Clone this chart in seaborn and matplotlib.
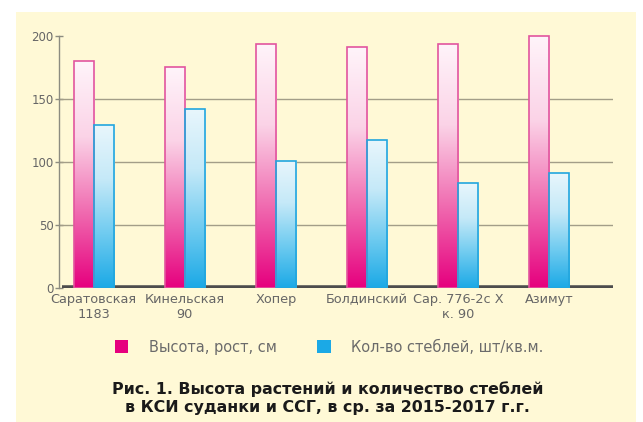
import numpy as np
import pandas as pd
import matplotlib
matplotlib.use("Agg")
import matplotlib.pyplot as plt
from matplotlib.patches import Rectangle
from matplotlib.colors import LinearSegmentedColormap
import seaborn as sns

categories = ["Саратовская\n1183", "Кинельская\n90", "Хопер", "Болдинский",
              "Сар. 776-2с Х\nк. 90", "Азимут"]
height_cm = [180, 175, 194, 191, 194, 200]
stems_per_m2 = [129, 142, 101, 117, 83, 91]
series_names = ["Высота, рост, см", "Кол-во стеблей, шт/кв.м."]
y_ticks = [0, 50, 100, 150, 200]
caption = "Рис. 1. Высота растений и количество стеблей\nв КСИ суданки и ССГ, в ср. за 2015-2017 г.г."

df = pd.DataFrame({
    "cat": categories * 2,
    "val": height_cm + stems_per_m2,
    "series": [series_names[0]] * len(categories) + [series_names[1]] * len(categories),
})

sns.set_theme(style="white")
plt.rcParams["font.family"] = ["DejaVu Sans"]

W, H = 643, 422
fig = plt.figure(figsize=(W / 100, H / 100), dpi=100, facecolor="white")
cream = "#FFF9D6"
fig.patches.append(Rectangle((16 / W, 0), (636 - 16) / W, (H - 12) / H,
                             transform=fig.transFigure, facecolor=cream,
                             edgecolor="none", zorder=-10))

ax = fig.add_axes([59 / W, 1 - 287.7 / H, (613 - 59) / W, (287.7 - 31) / H])
ax.set_facecolor("none")

pink = "#E6007E"
blue = "#1BA9E6"
sns.barplot(data=df, x="cat", y="val", hue="series", palette=[pink, blue],
            width=0.44, gap=0, ax=ax, saturation=1, edgecolor="none",
            legend=True, zorder=3)

ax.set_xlim(-0.38, 5.7)
ax.set_ylim(0, 204)

# gradients
cmaps = [LinearSegmentedColormap.from_list("p", ["#E6007E", "#F06BB0", "#FBD3E7", "#FFF4FA"]),
         LinearSegmentedColormap.from_list("b", ["#1BA9E6", "#6FCBF0", "#C5E9F8", "#E8F6FC"])]
edges = ["#E2559E", "#22A6DE"]
grad = np.linspace(0, 1, 256).reshape(-1, 1)
for ci, cont in enumerate(ax.containers):
    for bar in cont:
        x0, y0 = bar.get_x(), bar.get_y()
        w, h = bar.get_width(), bar.get_height()
        im = ax.imshow(grad, cmap=cmaps[ci], aspect="auto", origin="lower",
                       extent=[x0, x0 + w, y0, y0 + h], zorder=3.5)
        im.set_clip_path(bar)
        bar.set_facecolor("none")
        bar.set_edgecolor(edges[ci])
        bar.set_linewidth(1.2)
        bar.set_zorder(4)

# grid lines
for yv in [50, 100, 150]:
    ax.axhline(yv, color="#A39E88", lw=1.0, zorder=1)
# floor
ax.axhline(0, xmin=0.005, xmax=1.0, color="#4D4D4D", lw=4, zorder=2, solid_capstyle="butt")

for s in ["top", "right", "bottom"]:
    ax.spines[s].set_visible(False)
ax.spines["left"].set_color("#8C8C80")
ax.spines["left"].set_linewidth(1.0)
ax.spines["left"].set_bounds(0, 200)
ax.set_yticks(y_ticks)
ax.tick_params(axis="y", direction="inout", length=6, width=1, color="#8C8C80",
               labelsize=8.5, labelcolor="#666666", pad=1, left=True)
ax.tick_params(axis="x", length=0, labelsize=9.3, labelcolor="#666666", pad=4)
ax.set_xlabel("")
ax.set_ylabel("")

sns.move_legend(ax, "center", bbox_to_anchor=(0.512, 1 - 347 / H),
                bbox_transform=fig.transFigure, ncol=2, frameon=False, title=None,
                fontsize=10.5, handlelength=0.9, handleheight=0.9, columnspacing=2.8,
                handletextpad=1.4)
leg = ax.get_legend()
for t in leg.get_texts():
    t.set_color("#6B6B6B")

fig.text(0.51, 1 - 398 / H, caption, ha="center", va="center", fontsize=11.4,
         fontweight="bold", color="#1A1A1A", linespacing=1.3)

fig.savefig("out.png", dpi=100, facecolor="white")
